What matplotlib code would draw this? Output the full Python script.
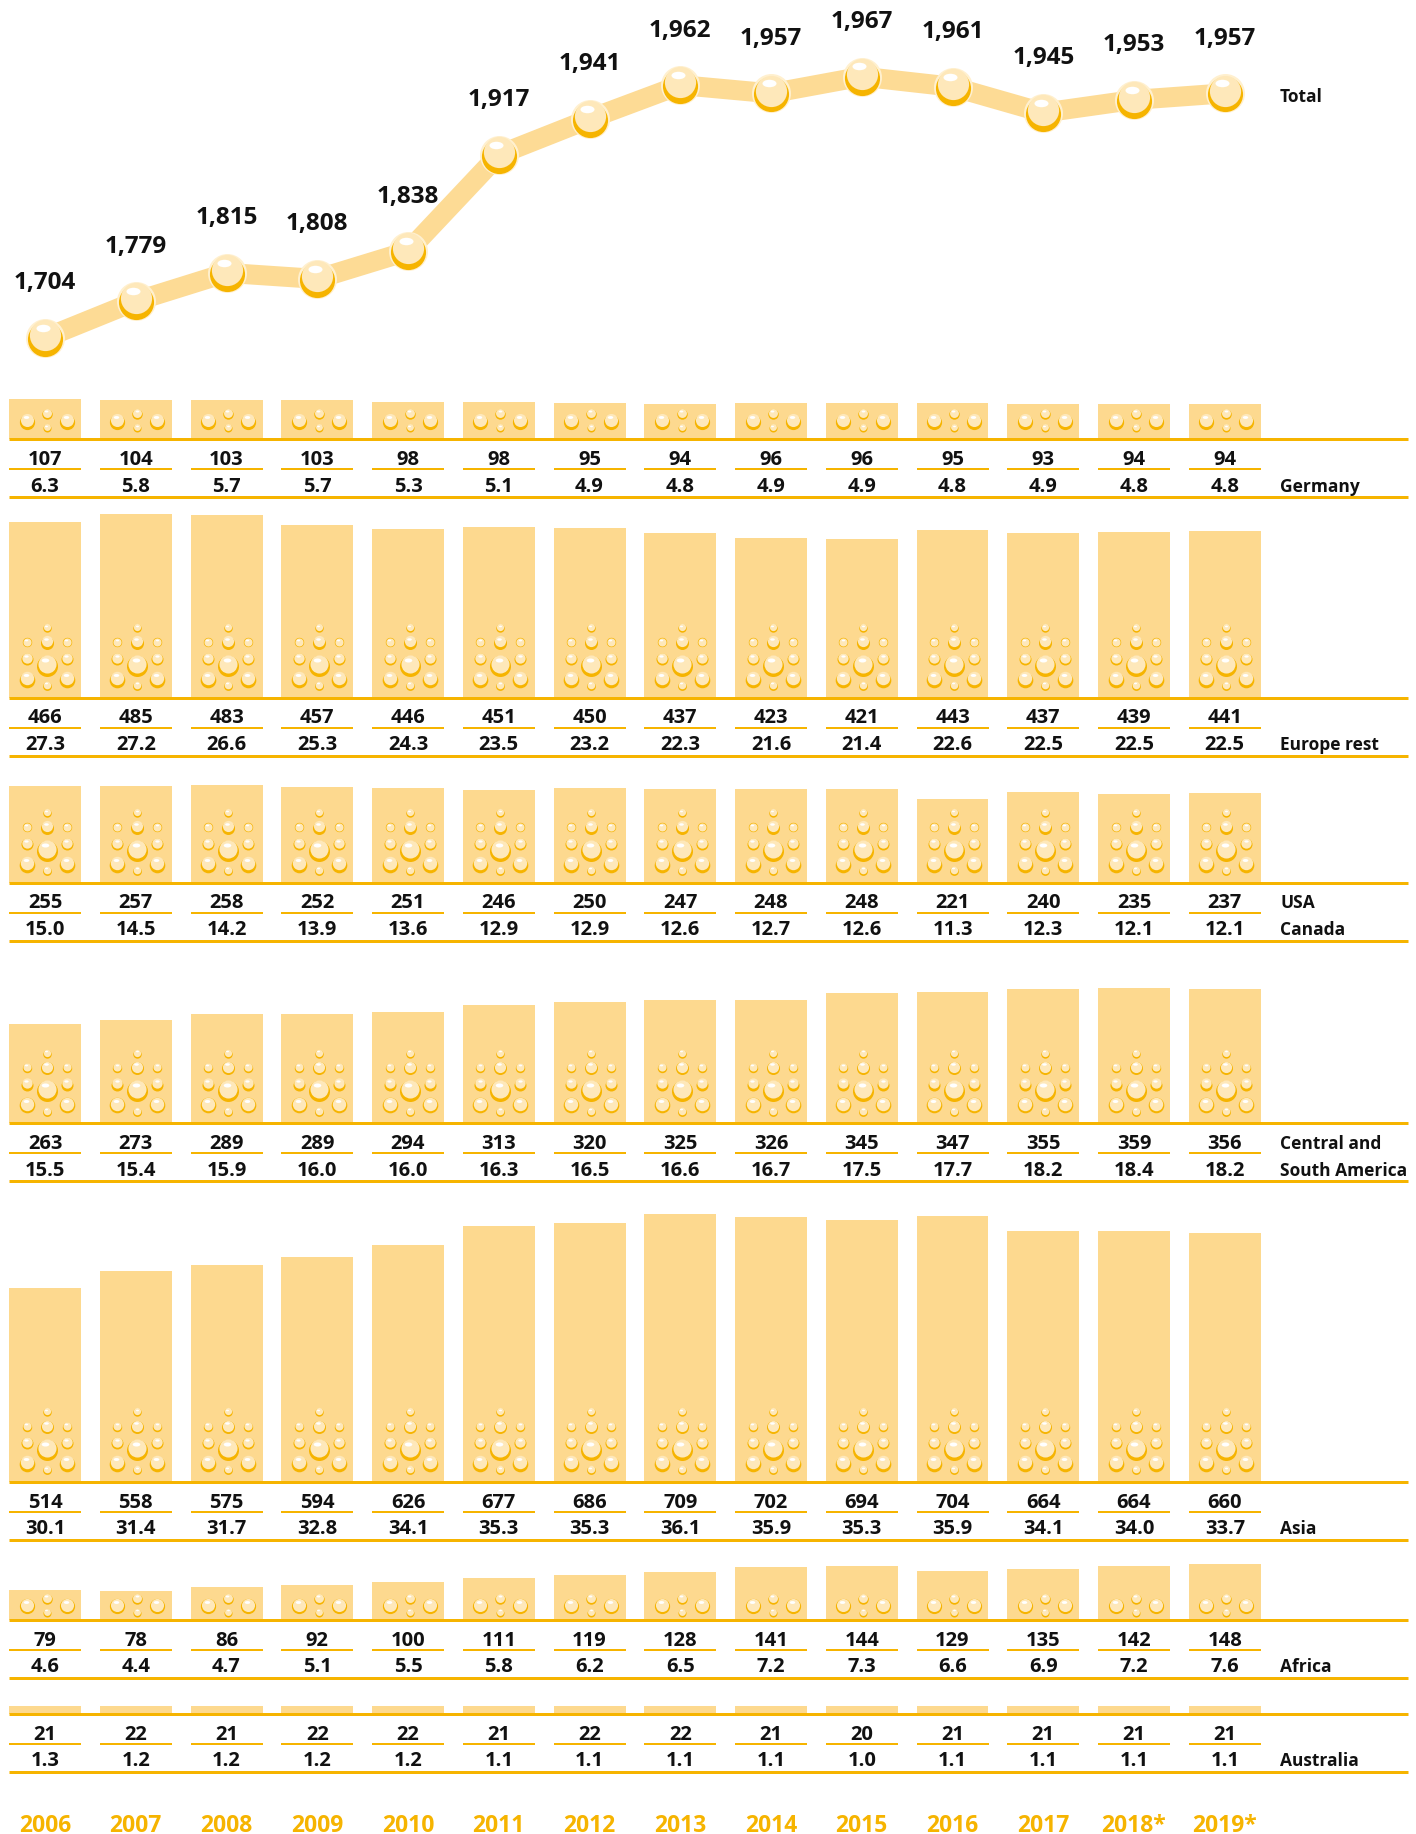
import matplotlib
matplotlib.use("Agg")
import matplotlib.pyplot as plt
import numpy as np
from matplotlib.markers import MarkerStyle
from matplotlib.transforms import Affine2D, ScaledTranslation, blended_transform_factory

# ---- data ---------------------------------------------------------------- #
years = ["2006", "2007", "2008", "2009", "2010", "2011", "2012",
         "2013", "2014", "2015", "2016", "2017", "2018*", "2019*"]
total = [1704, 1779, 1815, 1808, 1838, 1917, 1941, 1962, 1957, 1967, 1961, 1945, 1953, 1957]

germany = [107, 104, 103, 103, 98, 98, 95, 94, 96, 96, 95, 93, 94, 94]
germany_pct = [6.3, 5.8, 5.7, 5.7, 5.3, 5.1, 4.9, 4.8, 4.9, 4.9, 4.8, 4.9, 4.8, 4.8]
europe = [466, 485, 483, 457, 446, 451, 450, 437, 423, 421, 443, 437, 439, 441]
europe_pct = [27.3, 27.2, 26.6, 25.3, 24.3, 23.5, 23.2, 22.3, 21.6, 21.4, 22.6, 22.5, 22.5, 22.5]
usa = [255, 257, 258, 252, 251, 246, 250, 247, 248, 248, 221, 240, 235, 237]
usa_pct = [15.0, 14.5, 14.2, 13.9, 13.6, 12.9, 12.9, 12.6, 12.7, 12.6, 11.3, 12.3, 12.1, 12.1]
latam = [263, 273, 289, 289, 294, 313, 320, 325, 326, 345, 347, 355, 359, 356]
latam_pct = [15.5, 15.4, 15.9, 16.0, 16.0, 16.3, 16.5, 16.6, 16.7, 17.5, 17.7, 18.2, 18.4, 18.2]
asia = [514, 558, 575, 594, 626, 677, 686, 709, 702, 694, 704, 664, 664, 660]
asia_pct = [30.1, 31.4, 31.7, 32.8, 34.1, 35.3, 35.3, 36.1, 35.9, 35.3, 35.9, 34.1, 34.0, 33.7]
africa = [79, 78, 86, 92, 100, 111, 119, 128, 141, 144, 129, 135, 142, 148]
africa_pct = [4.6, 4.4, 4.7, 5.1, 5.5, 5.8, 6.2, 6.5, 7.2, 7.3, 6.6, 6.9, 7.2, 7.6]
australia = [21, 22, 21, 22, 22, 21, 22, 22, 21, 20, 21, 21, 21, 21]
australia_pct = [1.3, 1.2, 1.2, 1.2, 1.2, 1.1, 1.1, 1.1, 1.1, 1.0, 1.1, 1.1, 1.1, 1.1]

# ---- style / layout -------------------------------------------------------- #
plt.rcParams["font.family"] = ["Open Sans", "DejaVu Sans"]

BAR_C = "#fdd98f"
LINE_C = "#fddb95"
ORANGE = "#f6b400"
LIGHT_C = "#fee8ba"
RING_C = "#fff0cf"
TEXT_C = "#111111"

DPI = 100
W, H = 1416, 1834
PT = 72 / DPI            # points per pixel
X0, STEP = 45, 90.75     # first bar centre and column spacing, px
S = 0.378                # px per thousand hl in the bar panels
x = np.arange(len(years))
XLIM = (-X0 / STEP, (W - X0) / STEP)
BAR_W = 72 / STEP
RULE_L, RULE_R = (9 - X0) / STEP, (1408 - X0) / STEP
LABEL_X = 1280 / W

fig = plt.figure(figsize=(W / DPI, H / DPI), dpi=DPI)


def axes_px(top, bottom):
	ax = fig.add_axes([0, 1 - bottom / H, 1, (bottom - top) / H])
	ax.set_axis_off()
	ax.patch.set_alpha(0)
	return ax


def shift(ax, dx, dy, base=None):
	base = ax.transData if base is None else base
	return base + ScaledTranslation(dx / DPI, dy / DPI, fig.dpi_scale_trans)


ELLIPSE = MarkerStyle("o", transform=Affine2D().scale(1.5, 0.8))


def drop(ax, xs, ys, dx, dy, r, ring=False, z=2):
	# a little glossy bubble: pale rim, orange crescent, light body, white shine
	def sc(ox, oy, rad, color, marker="o"):
		ax.scatter(xs, ys, s=(2 * rad * PT) ** 2, c=color, marker=marker, linewidths=0,
		           transform=shift(ax, dx + ox, dy + oy), zorder=z, clip_on=False)
	if ring:
		sc(0, 0, r, RING_C)
		sc(0, -0.05 * r, 0.9 * r, ORANGE)
		sc(0, 0.14 * r, 0.8 * r, LIGHT_C)
	else:
		sc(0, -0.06 * r, r, ORANGE)
		sc(0, 0.14 * r, 0.86 * r, LIGHT_C)
	sc(-0.12 * r, 0.52 * r, 0.24 * r, "white", ELLIPSE)


# bubble patterns (dx, dy, radius) in px, relative to the bar centre / base line
TALL = [(0, 70, 4.2), (-20, 55.5, 4.7), (0, 55.5, 6.5), (20, 55.5, 4.7),
        (-20, 39, 6), (0, 32.5, 10.5), (20, 39, 6),
        (-20, 18.5, 7.8), (0, 12, 4.4), (20, 18.5, 7.8)]
SMALL = [(-20, 0, 7.6), (0, 7.5, 5.2), (0, -6.5, 4), (20, 0, 7.6)]

# ---- total line ------------------------------------------------------------ #
# the original stretches the upper part of the total scale
def fwd(v):
	d = (np.asarray(v, dtype=float) - 1650) / 100
	return np.sign(d) * d ** 2


def inv(f):
	f = np.asarray(f, dtype=float)
	return 1650 + 100 * np.sign(f) * np.sqrt(np.abs(f))


ax = axes_px(0, 400)
ax.set_yscale("function", functions=(fwd, inv))
ax.plot(x, total, color=LINE_C, lw=20 * PT, solid_joinstyle="round", solid_capstyle="butt", zorder=1)
drop(ax, x, total, 0, 0, 19.5, ring=True, z=3)
for i, v in enumerate(total):
	ax.text(i, v, f"{v:,}", transform=shift(ax, 0, 48.5), ha="center", va="baseline",
	        fontsize=17.5, fontweight="bold", color=TEXT_C)
lab_tr = blended_transform_factory(ax.transAxes, ax.transData)
ax.text(LABEL_X, total[-1], "Total", transform=shift(ax, 0, -9, lab_tr), ha="left", va="baseline",
        fontsize=12.5, fontweight="bold", color=TEXT_C)
ax.set_xlim(XLIM)
ax.set_ylim(1507.75, 2009.3)

# ---- regional bar panels ---------------------------------------------------- #
regions = [
	(germany, germany_pct, ["", "Germany"], 439.3, "small", 18),
	(europe, europe_pct, ["", "Europe rest"], 697.7, "tall", 0),
	(usa, usa_pct, ["USA", "Canada"], 882.7, "tall", 0),
	(latam, latam_pct, ["Central and", "South America"], 1123.3, "tall", 0),
	(asia, asia_pct, ["", "Asia"], 1482.0, "tall", 0),
	(africa, africa_pct, ["", "Africa"], 1620.0, "small", 14),
	(australia, australia_pct, ["", "Australia"], 1714.0, None, 0),
]

for vals, pcts, names, base, pattern, pdy in regions:
	top_px = max(vals) * S + 10
	ax = axes_px(base - top_px, base + 65)
	ax.bar(x, vals, width=BAR_W, color=BAR_C, linewidth=0, zorder=1)

	if pattern == "tall":
		for dx, dy, r in TALL:
			drop(ax, x, np.zeros(len(x)), dx + 1.5, dy, r)
	elif pattern == "small":
		for dx, dy, r in SMALL:
			drop(ax, x, np.zeros(len(x)), dx + 1.5, dy + pdy, r)

	# rules: base line, value underlines, closing line
	ax.plot([RULE_L, RULE_R], [0, 0], color=ORANGE, lw=3 * PT, solid_capstyle="butt", zorder=4)
	ax.plot([RULE_L, RULE_R], [0, 0], color=ORANGE, lw=3 * PT, solid_capstyle="butt", zorder=4,
	        transform=shift(ax, 0, -58), clip_on=False)
	ax.hlines(np.zeros(len(x)), x - BAR_W / 2, x + BAR_W / 2, color=ORANGE, lw=2 * PT,
	          transform=shift(ax, 0, -30), zorder=4)

	for i in x:
		ax.text(i, 0, f"{vals[i]}", transform=shift(ax, 0, -25.5), ha="center", va="baseline",
		        fontsize=14.5, fontweight="bold", color=TEXT_C)
		ax.text(i, 0, f"{pcts[i]:.1f}", transform=shift(ax, 0, -52.5), ha="center", va="baseline",
		        fontsize=14.5, fontweight="bold", color=TEXT_C)

	lab_tr = blended_transform_factory(ax.transAxes, ax.transData)
	for name, off in zip(names, (-25.5, -52.5)):
		if name:
			ax.text(LABEL_X, 0, name, transform=shift(ax, 0, off, lab_tr), ha="left", va="baseline",
			        fontsize=12.5, fontweight="bold", color=TEXT_C)

	ax.set_xlim(XLIM)
	ax.set_ylim(-65 / S, top_px / S)

# year labels under the last panel
for i, yr in enumerate(years):
	ax.text(i, 0, yr, transform=shift(ax, 0, -117.5), ha="center", va="baseline",
	        fontsize=16.5, fontweight="bold", color=ORANGE)

fig.savefig("out.png", dpi=DPI)
